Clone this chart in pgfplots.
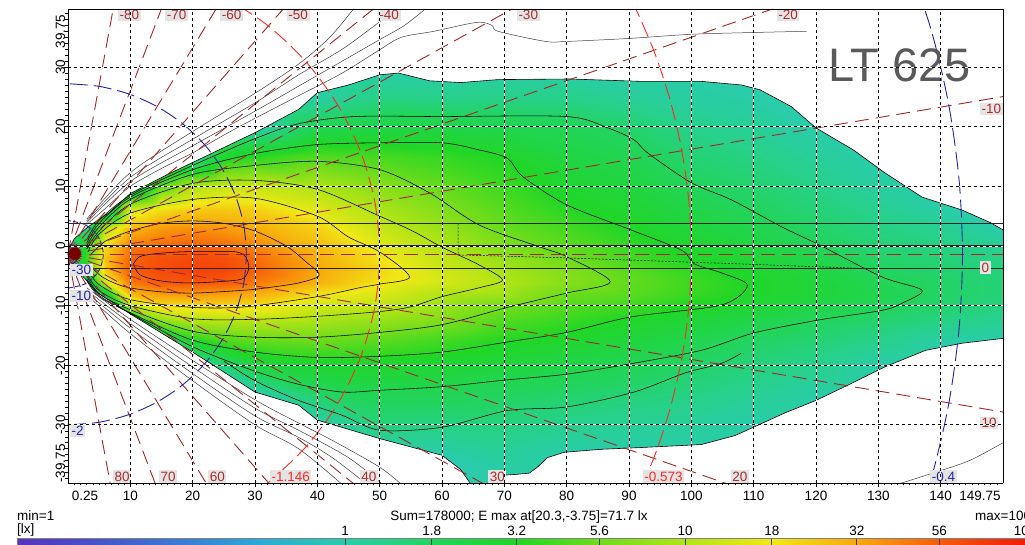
\documentclass[border=0pt]{standalone}
\usepackage{fontspec}
\setmainfont{Liberation Sans}
\usepackage{pgfplots}
\pgfplotsset{compat=1.18}

\definecolor{lbg}{RGB}{228,228,228}
\definecolor{rline}{RGB}{160,40,40}
\definecolor{rtext}{RGB}{170,45,45}
\definecolor{bred}{RGB}{255,40,40}
\definecolor{dblue}{RGB}{35,35,165}
\definecolor{ltgray}{RGB}{90,90,90}
\definecolor{lampred}{RGB}{120,0,0}
\newcommand{\lab}{\fontsize{13.5}{15}\selectfont}
\newcommand{\alab}{\fontsize{13.5}{14}\selectfont}

\tikzset{lb/.style={fill=lbg, inner sep=1.5pt, font=\alab, anchor=west}}
\pgfplotsset{
  colormap={lux}{
    rgb255(0pt)=(88,52,188);
    rgb255(21.5pt)=(72,80,200);
    rgb255(46.5pt)=(58,120,212);
    rgb255(71.5pt)=(45,170,214);
    rgb255(96.5pt)=(42,204,172);
    rgb255(109.5pt)=(38,209,135);
    rgb255(122pt)=(34,212,92);
    rgb255(147pt)=(32,214,38);
    rgb255(171.3pt)=(110,220,28);
    rgb255(196.5pt)=(178,228,22);
    rgb255(222pt)=(240,232,22);
    rgb255(247pt)=(248,168,12);
    rgb255(271.3pt)=(246,92,10);
    rgb255(296.5pt)=(240,28,10);
    rgb255(300pt)=(238,18,10)
  },
  cont/.style={black, line width=0.55pt, smooth, tension=0.5},
  outl/.style={black!75, line width=0.5pt, smooth, tension=0.5},
  rl/.style={rline, line width=0.9pt, dash pattern=on 14pt off 7pt},
  rc/.style={bred, line width=0.9pt, dash pattern=on 16pt off 6pt, smooth},
  bc/.style={dblue, line width=0.9pt, dash pattern=on 18pt off 6pt, smooth},
}

\begin{document}
\begin{tikzpicture}
\begin{axis}[
  at={(0pt,0pt)}, anchor=south west,
  width=935pt, height=474pt, scale only axis,
  view={0}{90},
  xmin=0, xmax=150, ymin=-39.75, ymax=39.75, zmin=-1, zmax=1,
  ztick=\empty,
  colormap name=lux,
  point meta min=-0.965, point meta max=2.035,
  xtick={10,20,...,140}, xticklabels={},
  ytick={-30,-20,...,30}, yticklabels={},
  minor xtick={1,2,...,149},
  minor ytick={-39,-38,...,39},
  tick align=outside, tick pos=left,
  major tick length=4pt, minor tick length=2.5pt,
  tick style={black, line width=0.5pt},
  grid=major,
  major grid style={white, line width=0.8pt},
  extra x ticks={10,20,...,140},
  extra y ticks={-30,-20,...,30},
  extra x tick labels={}, extra y tick labels={},
  extra tick style={grid=major, major grid style={black, line width=0.8pt, dash pattern=on 3pt off 3pt}},
  axis line style={black, line width=0.8pt},
  axis on top,
]
% illuminance field (lx)
\addplot3[surf, shader=interp, point meta={ln(\thisrow{E})/2.302585}] table[x=x, y=y, z expr=0] {
x y E
0 40 1
3 40 1
6 40 1
10 40 1
15 40 1
20 40 1
25 40 1
30 40 1
40 40 1
50 40 1
60 40 1
70 40 1
80 40 1
90 40 1
100 40 1
110 40 1
120 40 1
130 40 1
140 40 1
150 40 1

0 30 1
3 30 1
6 30 1
10 30 1
15 30 1
20 30 1
25 30 1
30 30 1
40 30 1
50 30 1
60 30 1
70 30 1
80 30 1
90 30 1
100 30 1
110 30 1
120 30 1
130 30 1
140 30 1
150 30 1

0 25 1
3 25 1
6 25 1
10 25 1
15 25 1
20 25 1
25 25 1
30 25 1
40 25 1.08
50 25 1.36
60 25 1.30
70 25 1.32
80 25 1.32
90 25 1.18
100 25 1.09
110 25 1.03
120 25 1
130 25 1
140 25 1
150 25 1

0 20 1
3 20 1
6 20 1
10 20 1
15 20 1
20 20 1
25 20 1
30 20 1
40 20 1.95
50 20 2.24
60 20 2.24
70 20 2.08
80 20 1.92
90 20 1.62
100 20 1.30
110 20 1.19
120 20 1
130 20 1
140 20 1
150 20 1

0 15 1
3 15 1
6 15 1
10 15 1
15 15 1
20 15 1
25 15 3
30 15 3.5
40 15 4.7
50 15 4.26
60 15 3.73
70 15 3.2
80 15 2.33
90 15 2.03
100 15 1.55
110 15 1.38
120 15 1.15
130 15 1
140 15 1
150 15 1

0 10 1
3 10 1
6 10 1
10 10 1
15 10 5
20 10 9.5
25 10 12
30 10 12
40 10 9.6
50 10 7
60 10 5.2
70 10 3.96
80 10 2.83
90 10 2.45
100 10 1.85
110 10 1.59
120 10 1.34
130 10 1.10
140 10 1
150 10 1

0 6 1
3 6 1
6 6 1
10 6 14
15 6 20
20 6 24
25 6 24
30 6 23
40 6 15.5
50 6 9.5
60 6 6.7
70 6 4.7
80 6 3.39
90 6 2.85
100 6 2.2
110 6 1.78
120 6 1.51
130 6 1.26
140 6 1.05
150 6 1

0 3 1
3 3 1.2
6 3 10
10 3 28
15 3 35
20 3 38
25 3 35
30 3 31
40 3 22
50 3 12
60 3 8.1
70 3 5.35
80 3 4.11
90 3 3.18
100 3 2.5
110 3 2.1
120 3 1.65
130 3 1.39
140 3 1.25
150 3 1

0 0 1
3 0 3.5
6 0 20
10 0 45
15 0 52
20 0 55
25 0 50
30 0 42
40 0 27
50 0 16
60 0 9.9
70 0 6.5
80 0 4.99
90 0 3.7
100 0 2.87
110 0 2.4
120 0 1.82
130 0 1.53
140 0 1.4
150 0 1.2

0 -2 1
3 -2 4
6 -2 25
10 -2 52
15 -2 62
20 -2 66
25 -2 63
30 -2 50
40 -2 30
50 -2 19
60 -2 11.5
70 -2 7.7
80 -2 5.7
90 -2 4.2
100 -2 3.13
110 -2 2.65
120 -2 2.1
130 -2 1.64
140 -2 1.5
150 -2 1.35

0 -4 1
3 -4 3.5
6 -4 23
10 -4 55
15 -4 66
20 -4 71.7
25 -4 68
30 -4 55
40 -4 32
50 -4 21
60 -4 13.2
70 -4 9.0
80 -4 6.6
90 -4 4.8
100 -4 3.6
110 -4 2.9
120 -4 2.35
130 -4 1.75
140 -4 1.6
150 -4 1.45

0 -6 1
3 -6 1.5
6 -6 13
10 -6 45
15 -6 58
20 -6 60
25 -6 57
30 -6 46
40 -6 30
50 -6 19
60 -6 13.8
70 -6 10
80 -6 6.9
90 -6 5.2
100 -6 4.0
110 -6 3.1
120 -6 2.55
130 -6 1.95
140 -6 1.7
150 -6 1.5

0 -8 1
3 -8 1
6 -8 2
10 -8 28
15 -8 35
20 -8 36
25 -8 34
30 -8 31
40 -8 19
50 -8 14.5
60 -8 9.9
70 -8 8.5
80 -8 5.5
90 -8 4.9
100 -8 3.8
110 -8 3.05
120 -8 2.55
130 -8 2.05
140 -8 1.7
150 -8 1.5

0 -10 1
3 -10 1
6 -10 1
10 -10 10
15 -10 20
20 -10 20
25 -10 21
30 -10 20
40 -10 13
50 -10 11
60 -10 8.2
70 -10 5.8
80 -10 4.69
90 -10 4.0
100 -10 3.1
110 -10 2.7
120 -10 2.2
130 -10 1.85
140 -10 1.6
150 -10 1.4

0 -13 1
3 -13 1
6 -13 1
10 -13 1
15 -13 6
20 -13 8.5
25 -13 9.5
30 -13 9.5
40 -13 8.5
50 -13 7.3
60 -13 6.2
70 -13 4.34
80 -13 3.63
90 -13 2.98
100 -13 2.53
110 -13 2.1
120 -13 1.75
130 -13 1.57
140 -13 1.35
150 -13 1.2

0 -16 1
3 -16 1
6 -16 1
10 -16 1
15 -16 1
20 -16 3
25 -16 4.2
30 -16 5
40 -16 5.4
50 -16 4.77
60 -16 4.0
70 -16 3.26
80 -16 2.89
90 -16 2.47
100 -16 2.06
110 -16 1.71
120 -16 1.54
130 -16 1.31
140 -16 1.05
150 -16 1

0 -20 1
3 -20 1
6 -20 1
10 -20 1
15 -20 1
20 -20 1
25 -20 1.5
30 -20 2.3
40 -20 2.9
50 -20 2.85
60 -20 2.67
70 -20 2.46
80 -20 2.2
90 -20 1.92
100 -20 1.67
110 -20 1.47
120 -20 1.29
130 -20 1.03
140 -20 1
150 -20 1

0 -25 1
3 -25 1
6 -25 1
10 -25 1
15 -25 1
20 -25 1
25 -25 1
30 -25 1
40 -25 1.65
50 -25 1.94
60 -25 1.92
70 -25 1.76
80 -25 1.63
90 -25 1.5
100 -25 1.38
110 -25 1.21
120 -25 1.04
130 -25 1
140 -25 1
150 -25 1

0 -30 1
3 -30 1
6 -30 1
10 -30 1
15 -30 1
20 -30 1
25 -30 1
30 -30 1
40 -30 1
50 -30 1.45
60 -30 1.39
70 -30 1.42
80 -30 1.26
90 -30 1.19
100 -30 1.14
110 -30 1
120 -30 1
130 -30 1
140 -30 1
150 -30 1

0 -35 1
3 -35 1
6 -35 1
10 -35 1
15 -35 1
20 -35 1
25 -35 1
30 -35 1
40 -35 1
50 -35 1
60 -35 1
70 -35 1.14
80 -35 1
90 -35 1
100 -35 1
110 -35 1
120 -35 1
130 -35 1
140 -35 1
150 -35 1

0 -40 1
3 -40 1
6 -40 1
10 -40 1
15 -40 1
20 -40 1
25 -40 1
30 -40 1
40 -40 1
50 -40 1
60 -40 1
70 -40 1
80 -40 1
90 -40 1
100 -40 1
110 -40 1
120 -40 1
130 -40 1
140 -40 1
150 -40 1
};

% areas below 1 lx (white)
\addplot[draw=none, fill=white] coordinates {(-2,-0.8) (0,-0.8) (1,1.2) (3.2,3.2) (6.5,5.5) (10,8.8) (16,12) (20,14) (25,16.5) (30,19) (37,22.9) (40,25.7) (45,27) (50,28.7) (53,29) (58,27.7) (63,27.4) (69,27.9) (80.6,28) (92,27.6) (101.6,27.6) (108,27) (111,26.2) (116,23.4) (120,19.8) (126,16.1) (131,12.3) (137,8.2) (143.5,6) (148,3.9) (150,2.7) (152,2.7) (152,42) (-2,42) (-2,-0.8)};
\addplot[draw=none, fill=white] coordinates {(-2,-2.2) (0,-2.2) (1,-3.5) (4.8,-7.9) (10,-11.4) (15,-14.6) (20,-17.8) (30,-24.5) (37,-26.7) (40,-29.2) (50,-32.3) (60,-35.1) (63,-37.5) (65,-40.5) (68.5,-40.5) (69,-38.5) (72,-38.3) (74,-38.1) (75.3,-37.1) (76.9,-35.5) (79.6,-34.6) (85.5,-34.1) (92,-33.8) (101.6,-33.3) (107,-31.8) (110.6,-30.1) (115,-28) (120,-25.9) (125,-23.4) (131,-20.3) (137.6,-17.5) (143.5,-16.3) (150,-15.5) (152,-15.5) (152,-42) (-2,-42) (-2,-2.2)};

% 1 lx boundary
\addplot[black, line width=0.6pt] coordinates {(0,-0.8) (1,1.2) (3.2,3.2) (6.5,5.5) (10,8.8) (16,12) (20,14) (25,16.5) (30,19) (37,22.9) (40,25.7) (45,27) (50,28.7) (53,29) (58,27.7) (63,27.4) (69,27.9) (80.6,28) (92,27.6) (101.6,27.6) (108,27) (111,26.2) (116,23.4) (120,19.8) (126,16.1) (131,12.3) (137,8.2) (143.5,6) (148,3.9) (150,2.7)};
\addplot[black, line width=0.6pt] coordinates {(0,-2.2) (1,-3.5) (4.8,-7.9) (10,-11.4) (15,-14.6) (20,-17.8) (30,-24.5) (37,-26.7) (40,-29.2) (50,-32.3) (60,-35.1) (63,-37.5) (65,-40.5)};
\addplot[black, line width=0.6pt] coordinates {(68.5,-40.5) (69,-38.5) (72,-38.3) (74,-38.1) (75.3,-37.1) (76.9,-35.5) (79.6,-34.6) (85.5,-34.1) (92,-33.8) (101.6,-33.3) (107,-31.8) (110.6,-30.1) (115,-28) (120,-25.9) (125,-23.4) (131,-20.3) (137.6,-17.5) (143.5,-16.3) (150,-15.5)};

% isolux lines
\addplot[cont] coordinates {(10.5,-3.0) (11.5,-1.8) (14,-1.3) (18,-1.0) (23,-0.9) (27,-1.0) (28.5,-1.8) (29,-3.7) (28,-5.5) (24,-6.0) (19,-6.2) (14.5,-5.8) (11.5,-4.8) (10.5,-3.0)};
\addplot[cont] coordinates {(3.5,-1.6) (6,0.8) (10,2.5) (15,3.8) (20,4.2) (25,3.8) (30,2.5) (35,0) (38,-2.5) (40.3,-4.9) (37,-6.2) (32,-7.0) (28.5,-7.4) (20,-7.9) (14,-7.6) (9,-6.8) (5.5,-5.2) (3.5,-3.2)};
\addplot[cont] coordinates {(3.2,-1.0) (5,2) (10,5.5) (20,7.8) (30,8) (40,5) (45,1.5) (50,-1) (54.8,-5.2) (50,-6.4) (46.8,-7) (40,-8.5) (28.5,-10.2) (20,-10.3) (10,-9) (5,-6.5) (3.2,-4)};
\addplot[cont] coordinates {(3,-0.5) (5,2.5) (10,7) (20,10.5) (30,11) (40,9.5) (50,5) (55.3,2.5) (60,-0.2) (66,-3.2) (69.7,-5.7) (66,-7) (60,-8.5) (55,-10.2) (50,-11) (40,-11.8) (30,-12.3) (20,-12.2) (10,-10) (5,-7.5) (3,-4.5)};
\addplot[cont] coordinates {(3,0) (5,3.2) (10,7.8) (20,12) (30,13.5) (40,14.2) (50,12.8) (58,8.9) (66,3.5) (75.8,-0.2) (80,-1.8) (87,-6) (80,-7.9) (70.5,-10.3) (60,-13.2) (50,-14.5) (40,-15.3) (30,-15.3) (20,-14.3) (10,-10.7) (5,-8) (3,-5)};
\addplot[cont] coordinates {(3,0.5) (5,3.8) (10,8.2) (20,12.8) (30,15.5) (40,17) (50,17.3) (60,17.3) (66,16.1) (70.5,14.7) (73,11.6) (80,6.9) (90.3,2.7) (98.4,-0.7) (100.5,-3) (104.8,-4.5) (109,-6.6) (104.8,-9.9) (90.3,-11.9) (80,-14.5) (70.5,-16.1) (60,-17.8) (50,-18.5) (40,-18.7) (30,-17.8) (20,-15.8) (10,-11.2) (5,-8.3) (3,-5.5)};
\addplot[cont] coordinates {(3,1) (5,4.3) (10,8.5) (20,13.5) (30,18) (37,20.5) (46,21.7) (60,21.7) (80,21.7) (86.6,19.8) (90.8,17.8) (93,15.6) (100,10.6) (106.5,7.7) (114.5,3.2) (120.5,0.2) (130.6,-5.2) (137,-7.4) (134,-9.5) (130.6,-10.8) (120.5,-12.4) (110,-14.6) (101.6,-17.5) (90,-19.8) (80,-21.5) (70,-22.5) (60,-23.6) (50,-24.2) (44,-24.5) (37,-23.2) (30,-21) (20,-16.9) (10,-11.3) (5,-8.5) (3,-5.8)};
\addplot[cont] coordinates {(25,-19.3) (30,-22.6) (37,-25.9) (44,-28.4) (50,-30.9) (60,-30.4) (70.5,-27.6) (80,-27) (90.8,-24.5) (99,-21.3) (104.8,-19.7) (108,-18)};
\addplot[black, line width=0.5pt, dash pattern=on 2pt off 1.5pt] coordinates {(62.6,3.75) (62.6,-1.5) (80,-2) (105,-2.9) (127,-3.75)};

% isolux lines below 1 lx
\addplot[outl] coordinates {(3,3.6) (6,6.3) (10,10) (15,13) (20,15.6) (25,18.6) (30,21.4) (37,25.2) (44,29) (50,32.9) (53.5,35) (58.7,36) (65.6,37.5) (68,37) (69,36) (76.6,34.3) (80,34.3) (90,34.8) (100,35.5) (110,35.8) (118.5,36)};
\addplot[outl] coordinates {(3,3.9) (10,10.8) (20,16.8) (30,22.6) (37,26.8) (45,31.6) (50,34.6) (54,37) (57.5,39.9)};
\addplot[outl] coordinates {(3,4.2) (10,11.5) (20,17.9) (30,24) (37,28.7) (44,33) (50,37.6) (53,40)};
\addplot[outl] coordinates {(3,4.5) (10,12.3) (20,19.2) (30,25.6) (37,30.5) (42,35) (46,40)};
\addplot[outl] coordinates {(3,-7) (10,-12.3) (20,-19.2) (30,-25.8) (37,-29.7) (42.4,-32.6) (50,-37.1) (53.5,-40)};
\addplot[outl] coordinates {(3,-7.4) (10,-13) (20,-20.3) (30,-27.2) (37,-30.9) (45,-35.5) (50.5,-40)};
\addplot[outl] coordinates {(3,-7.8) (10,-13.8) (20,-21.4) (30,-28.5) (37,-32.1) (42.4,-35.5) (48,-40)};
\addplot[outl] coordinates {(3,-8.2) (10,-14.7) (20,-22.6) (30,-30) (37,-34) (44,-40)};
\addplot[outl] coordinates {(133,-40) (139,-38) (144.6,-36) (150,-33)};

% lane lines
\addplot[black!85, line width=1pt] coordinates {(0,3.75) (150,3.75)};
\addplot[black!85, line width=1pt] coordinates {(0,0) (150,0)};
\addplot[black!85, line width=1pt] coordinates {(0,-3.75) (150,-3.75)};

% horizontal angle lines from the lamp
\addplot[rl] coordinates {(0,-1.4) (34.7,195.6)};
\addplot[rl] coordinates {(0,-1.4) (68.4,186.5)};
\addplot[rl] coordinates {(0,-1.4) (100,171.8)};
\addplot[rl] coordinates {(0,-1.4) (128.6,151.8)};
\addplot[rl] coordinates {(0,-1.4) (153.2,127.2)};
\addplot[rl] coordinates {(0,-1.4) (173.2,98.6)};
\addplot[rl] coordinates {(0,-1.4) (187.9,67.0)};
\addplot[rl] coordinates {(0,-1.4) (196.96,33.33)};
\addplot[rl] coordinates {(0,-1.4) (200,-1.4)};
\addplot[rl] coordinates {(0,-1.4) (196.96,-36.13)};
\addplot[rl] coordinates {(0,-1.4) (187.9,-69.8)};
\addplot[rl] coordinates {(0,-1.4) (173.2,-101.4)};
\addplot[rl] coordinates {(0,-1.4) (153.2,-130)};
\addplot[rl] coordinates {(0,-1.4) (128.6,-154.6)};
\addplot[rl] coordinates {(0,-1.4) (100,-174.6)};
\addplot[rl] coordinates {(0,-1.4) (68.4,-189.3)};
\addplot[rl] coordinates {(0,-1.4) (34.7,-198.4)};

% vertical angle circles
\addplot[rc] coordinates {(28.68,-42.36) (32.14,-39.70) (38.30,-33.54) (43.30,-26.40) (46.98,-18.50) (49.24,-10.08) (50,-1.4) (49.24,7.28) (46.98,15.70) (43.30,23.60) (38.30,30.74) (32.14,36.90) (25.00,41.90)};
\addplot[rc] coordinates {(90.63,-43.66) (93.97,-35.60) (96.59,-27.28) (98.48,-18.76) (99.62,-10.12) (100,-1.4) (99.62,7.32) (98.48,15.96) (96.59,24.48) (93.97,32.80) (90.63,40.86)};
\addplot[bc] coordinates {(134.85,-50.48) (138.61,-38.54) (141.32,-26.32) (142.95,-13.91) (143.5,-1.4) (142.95,11.11) (141.32,23.52) (138.61,35.74) (134.85,47.68)};
\addplot[bc] coordinates {(0,-30.0) (4.97,-29.57) (9.78,-28.28) (14.30,-26.17) (18.38,-23.31) (21.91,-19.78) (24.77,-15.70) (26.88,-11.18) (28.17,-6.37) (28.6,-1.4) (28.17,3.57) (26.88,8.38) (24.77,12.90) (21.91,16.98) (18.38,20.51) (14.30,23.37) (9.78,25.48) (4.97,26.77) (0,27.2)};
\addplot[bc, dash pattern=on 5pt off 2pt] coordinates {(0,-7.07) (2.84,-6.31) (4.91,-4.24) (5.67,-1.4) (4.91,1.44) (2.84,3.51) (0,4.27)};
\addplot[bc, dash pattern=on 3pt off 1pt] coordinates {(0,-3.13) (0.87,-2.90) (1.5,-2.27) (1.73,-1.4) (1.5,-0.53) (0.87,0.1) (0,0.33)};

% lamp
\addplot[only marks, mark=*, mark size=6pt, lampred] coordinates {(1.1,-1.3)};

% labels
\node[lb, text=rtext] at (axis cs:8.0,38.7,0) {-80};
\node[lb, text=rtext] at (axis cs:15.6,38.7,0) {-70};
\node[lb, text=rtext] at (axis cs:24.4,38.7,0) {-60};
\node[lb, text=rtext] at (axis cs:35.1,38.7,0) {-50};
\node[lb, text=rtext] at (axis cs:49.7,38.7,0) {-40};
\node[lb, text=rtext] at (axis cs:72,38.7,0) {-30};
\node[lb, text=rtext] at (axis cs:113.7,38.7,0) {-20};
\node[lb, text=rtext] at (axis cs:146.3,23,0) {-10};
\node[lb, text=rtext] at (axis cs:146.3,-3.6,0) {0};
\node[lb, text=rtext] at (axis cs:146.3,-29.7,0) {10};
\node[lb, text=rtext] at (axis cs:7.2,-38.7,0) {80};
\node[lb, text=rtext] at (axis cs:14.6,-38.7,0) {70};
\node[lb, text=rtext] at (axis cs:22.5,-38.7,0) {60};
\node[lb, text=rtext] at (axis cs:46.8,-38.7,0) {40};
\node[lb, text=rtext] at (axis cs:67.4,-38.7,0) {30};
\node[lb, text=rtext] at (axis cs:106.3,-38.7,0) {20};
\node[lb, text=bred] at (axis cs:32.4,-38.7,0) {-1.146};
\node[lb, text=bred] at (axis cs:92.2,-38.7,0) {-0.573};
\node[lb, text=dblue] at (axis cs:138.3,-38.7,0) {-0.4};
\node[lb, text=dblue] at (axis cs:0.3,-31,0) {-2};
\node[lb, text=dblue] at (axis cs:0.3,-8.4,0) {-10};
\node[lb, text=dblue] at (axis cs:0.3,-4,0) {-30};
\node[anchor=base, text=ltgray, font=\fontsize{47}{47}\selectfont] at (axis cs:133.4,27.6,0) {LT 625};
\end{axis}

% tick labels
\foreach \v/\p in {10/62.33,20/124.67,30/187,40/249.33,50/311.67,60/374,70/436.33,80/498.67,90/561,100/623.33,110/685.67,120/748,130/810.33,140/872.67}
  \node[anchor=base, font=\lab, inner sep=0pt] at (\p pt,-17pt) {\v};
\node[anchor=base, font=\lab, inner sep=0pt] at (17pt,-17pt) {0.25};
\node[anchor=base, font=\lab, inner sep=0pt] at (912pt,-17pt) {149.75};
\foreach \v/\p in {-30/58.13,-20/117.75,-10/177.38,0/237,10/296.6,20/356.3,30/415.9}
  \node[anchor=base, rotate=90, font=\lab, inner sep=0pt] at (-3pt,\p pt) {\v};
\node[anchor=base, rotate=90, font=\lab, inner sep=0pt] at (-3pt,451.5pt) {39.75};
\node[anchor=base, rotate=90, font=\lab, inner sep=0pt] at (-3pt,19.5pt) {-39.75};

% footer texts
\node[anchor=base west, font=\lab, inner sep=0pt] at (-51pt,-37pt) {min=1};
\node[anchor=base, font=\lab, inner sep=0pt] at (451pt,-37pt) {Sum=178000; E max at[20.3,-3.75]=71.7 lx};
\node[anchor=base west, font=\lab, inner sep=0pt] at (907pt,-37pt) {max=100};
\node[anchor=base west, font=\lab, inner sep=0pt] at (-51pt,-50pt) {[lx]};

% colour bar
\begin{axis}[
  at={(-51pt,-66pt)}, anchor=south west,
  width=1020pt, height=11pt, scale only axis,
  view={0}{90},
  xmin=-0.965, xmax=2.035, ymin=0, ymax=1, zmin=-1, zmax=1,
  colormap name=lux, point meta min=-0.965, point meta max=2.035,
  xtick={0,0.2553,0.5051,0.7482,1,1.2553,1.5051,1.7482,2}, xticklabels={},
  ytick=\empty, ztick=\empty,
  major tick length=0pt,
  grid=major, major grid style={black!75, line width=0.9pt},
  axis line style={gray, line width=0.6pt},
  axis on top,
]
\addplot3[surf, shader=interp, point meta=\thisrow{c}] table[x=c, y=y, z expr=0] {
c y
-0.965 0
-0.75 0
-0.5 0
-0.25 0
0 0
0.13 0
0.2553 0
0.5051 0
0.7482 0
1 0
1.2553 0
1.5051 0
1.7482 0
2 0
2.035 0

-0.965 1
-0.75 1
-0.5 1
-0.25 1
0 1
0.13 1
0.2553 1
0.5051 1
0.7482 1
1 1
1.2553 1
1.5051 1
1.7482 1
2 1
2.035 1
};
\end{axis}
\foreach \v/\p in {1/277,1.8/363.8,3.2/448.8,5.6/531.4,10/617,18/703.8,32/788.8,56/871.4,100/957}
  \node[anchor=base, font=\lab, inner sep=0pt] at (\p pt,-52pt) {\v};

\pgfresetboundingbox
\path[use as bounding box] (-68pt,-61pt) rectangle (957pt,483pt);
\end{tikzpicture}
\end{document}
